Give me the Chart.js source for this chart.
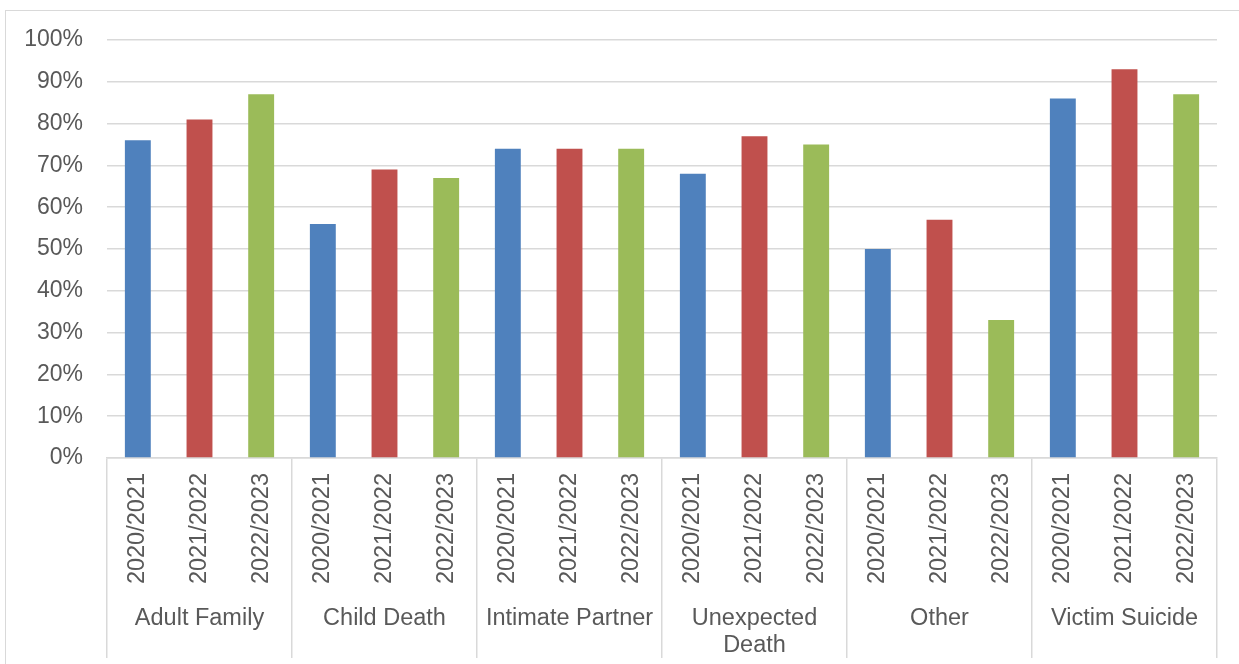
<!DOCTYPE html>
<html>
<head>
<meta charset="utf-8">
<script src="https://cdn.jsdelivr.net/npm/chart.js@4.4.1/dist/chart.umd.min.js"></script>
<style>
  html, body { margin: 0; padding: 0; background: #fff; overflow: hidden; }
  #frame { position: absolute; left: 5px; top: 10px; width: 1300px; height: 700px; border: 1.5px solid #d9d9d9; }
  #wrap { position: absolute; left: 0; top: 0; width: 1239px; height: 664px; }
</style>
</head>
<body>
<div id="frame"></div>
<div id="wrap"><canvas id="c" width="1239" height="664"></canvas></div>
<script>
const groups = ['Adult Family', 'Child Death', 'Intimate Partner', ['Unexpected', 'Death'], 'Other', 'Victim Suicide'];
const years = ['2020/2021', '2021/2022', '2022/2023'];
const yearColors = ['#4F81BD', '#C0504D', '#9BBB59'];
const adultFamily = [76, 81, 87];
const childDeath = [56, 69, 67];
const intimatePartner = [74, 74, 74];
const unexpectedDeath = [68, 77, 75];
const other = [50, 57, 33];
const victimSuicide = [86, 93, 87];
const yTicks = [0, 10, 20, 30, 40, 50, 60, 70, 80, 90, 100];

const groupValues = [adultFamily, childDeath, intimatePartner, unexpectedDeath, other, victimSuicide];
const labels = [];
const values = [];
const colors = [];
groupValues.forEach(g => g.forEach((v, i) => { labels.push(years[i]); values.push(v); colors.push(yearColors[i]); }));

const txt = '#595959';
const gridCol = '#d9d9d9';
const fam = '"Liberation Sans", Arial, sans-serif';

new Chart(document.getElementById('c'), {
  type: 'bar',
  data: {
    labels: labels,
    datasets: [{
      data: values,
      backgroundColor: colors,
      borderWidth: 0,
      categoryPercentage: 1,
      barPercentage: 0.42
    }]
  },
  options: {
    responsive: false,
    animation: false,
    devicePixelRatio: 1,
    layout: { padding: { top: 40, right: 22, bottom: 0, left: 0 } },
    plugins: { legend: { display: false }, tooltip: { enabled: false } },
    scales: {
      x: {
        type: 'category',
        position: 'bottom',
        offset: true,
        grid: {
          display: true,
          offset: true,
          drawOnChartArea: false,
          drawTicks: true,
          tickLength: 200,
          lineWidth: 1.5,
          color: ctx => (ctx.index === undefined || ctx.index % 3 === 0) ? gridCol : 'rgba(0,0,0,0)'
        },
        border: { display: true, color: gridCol, width: 1.5 },
        ticks: {
          autoSkip: false,
          maxRotation: 90,
          minRotation: 90,
          padding: -185,
          color: txt,
          font: { family: fam, size: 23.5 }
        },
        afterFit: s => { s.height = 130; }
      },
      x2: {
        type: 'category',
        position: 'bottom',
        labels: groups,
        offset: true,
        grid: { display: false },
        border: { display: false },
        ticks: {
          autoSkip: false,
          maxRotation: 0,
          minRotation: 0,
          padding: 9,
          color: txt,
          font: { family: fam, size: 23.5, lineHeight: 1.15 }
        },
        afterFit: s => { s.height = 76; }
      },
      y: {
        min: 0,
        max: 100,
        afterBuildTicks: s => { s.ticks = yTicks.map(v => ({ value: v })); },
        grid: { color: gridCol, lineWidth: 1.5, drawTicks: false },
        border: { display: false },
        ticks: {
          padding: 24,
          color: txt,
          font: { family: fam, size: 23 },
          callback: v => v + '%'
        },
        afterFit: s => { s.width = 107; }
      }
    }
  }
});
</script>
</body>
</html>
